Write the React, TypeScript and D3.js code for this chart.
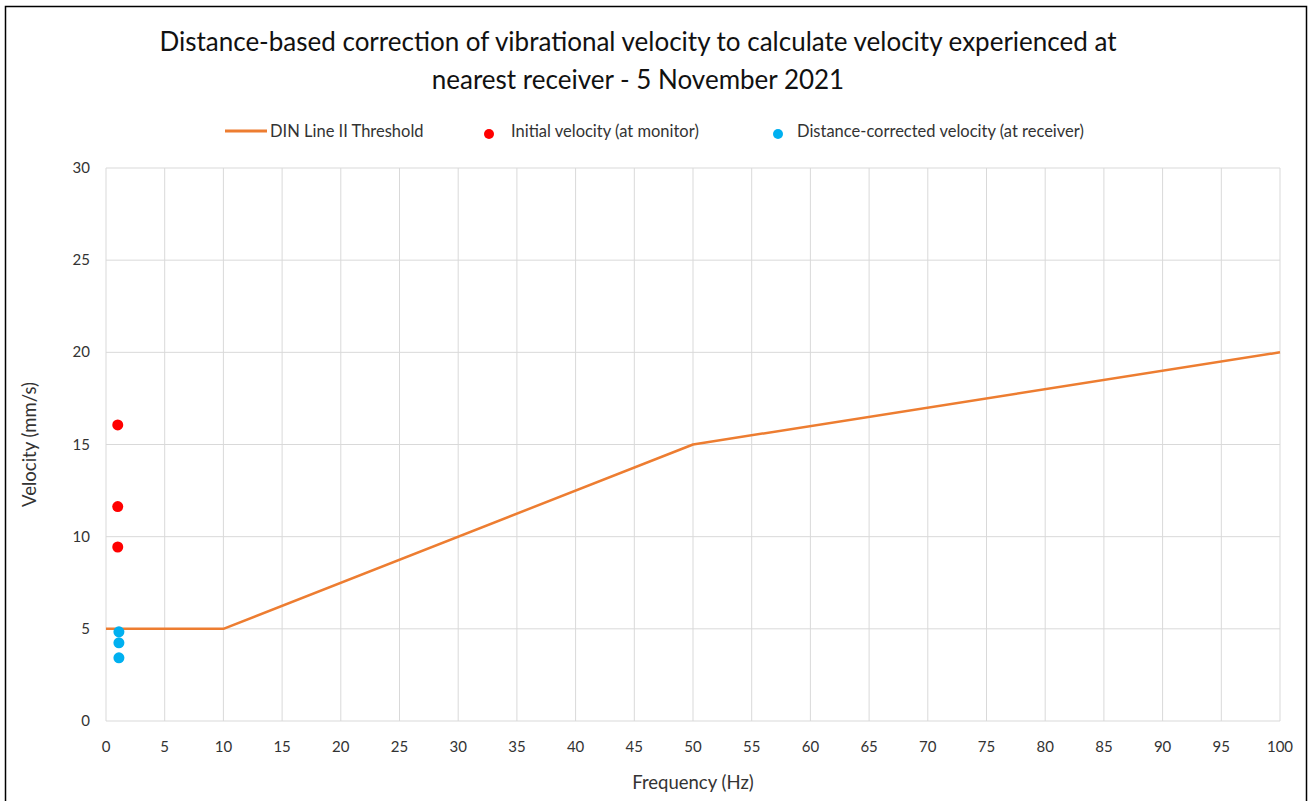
import React from "react";
import * as d3 from "d3";

const thresholdFreq = [0, 10, 50, 100];
const thresholdVel = [5, 5, 15, 20];
const initialFreq = [1.0, 1.0, 1.0];
const initialVel = [16.06, 11.63, 9.44];
const correctedFreq = [1.1, 1.1, 1.1];
const correctedVel = [4.84, 4.24, 3.43];
const xTicks = d3.range(0, 101, 5);
const yTicks = [0, 5, 10, 15, 20, 25, 30];
const titleLines = [
  "Distance-based correction of vibrational velocity to calculate velocity experienced at",
  "nearest receiver - 5 November 2021",
];

const W = 1309;
const H = 801;
const FONT = "Lato, 'Open Sans', sans-serif";

export default function App() {
  const x = d3.scaleLinear().domain([0, 100]).range([106, 1280]);
  const y = d3.scaleLinear().domain([0, 30]).range([721, 168]);
  const line = d3
    .line<number>()
    .x((_, i) => x(thresholdFreq[i]))
    .y((d) => y(d));
  const grid = "#d9d9d9";
  return (
    <svg
      width={W}
      height={H}
      style={{ position: "absolute", left: 0, top: 0, background: "#fff" }}
      fontFamily={FONT}
    >
      <rect x={0} y={0} width={W} height={H} fill="#fff" />
      <rect x={5.5} y={6.5} width={1301} height={800} fill="none" stroke="#000" strokeWidth={1.5} />
      {titleLines.map((t, i) => (
        <text key={i} x={638} y={51 + i * 38} textAnchor="middle" fontSize={26} fill="#111">
          {t}
        </text>
      ))}
      {/* legend */}
      <g fontSize={16.5} fill="#333">
        <line x1={225} x2={267} y1={131} y2={131} stroke="#ED7D31" strokeWidth={3} />
        <text x={270} y={137}>DIN Line II Threshold</text>
        <circle cx={489} cy={134} r={5} fill="#FF0000" />
        <text x={511} y={137}>Initial velocity (at monitor)</text>
        <circle cx={778} cy={134} r={5} fill="#00B0F0" />
        <text x={797} y={137}>Distance-corrected velocity (at receiver)</text>
      </g>
      {/* grid */}
      {xTicks.map((t) => (
        <line key={"gx" + t} x1={x(t)} x2={x(t)} y1={y(30)} y2={y(0)} stroke={grid} strokeWidth={1} />
      ))}
      {yTicks.map((t) => (
        <line key={"gy" + t} x1={x(0)} x2={x(100)} y1={y(t)} y2={y(t)} stroke={grid} strokeWidth={1} />
      ))}
      {/* tick labels */}
      <g fontSize={15} fill="#333">
        {yTicks.map((t) => (
          <text key={"ty" + t} x={90} y={y(t) + 5} textAnchor="end">
            {t}
          </text>
        ))}
        {xTicks.map((t) => (
          <text key={"tx" + t} x={x(t)} y={752} textAnchor="middle">
            {t}
          </text>
        ))}
      </g>
      <text x={693} y={789} textAnchor="middle" fontSize={18.5} fill="#333">
        Frequency (Hz)
      </text>
      <text
        transform={`translate(36, ${y(15)}) rotate(-90)`}
        textAnchor="middle"
        fontSize={18.5}
        fill="#333"
      >
        Velocity (mm/s)
      </text>
      {/* threshold line */}
      <path d={line(thresholdVel) || ""} fill="none" stroke="#ED7D31" strokeWidth={2.5} strokeLinejoin="round" />
      {initialVel.map((v, i) => (
        <circle key={"r" + i} cx={x(initialFreq[i])} cy={y(v)} r={5.5} fill="#FF0000" />
      ))}
      {correctedVel.map((v, i) => (
        <circle key={"b" + i} cx={x(correctedFreq[i])} cy={y(v)} r={5.5} fill="#00B0F0" />
      ))}
    </svg>
  );
}
